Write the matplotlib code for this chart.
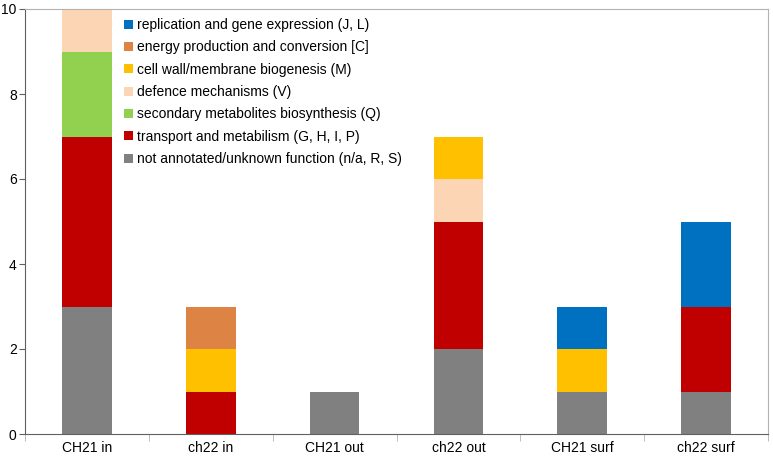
import numpy as np
import matplotlib.pyplot as plt

plt.rcParams['font.family'] = ['Liberation Sans', 'DejaVu Sans']

campioni = ['CH21 in', 'ch22 in', 'CH21 out', 'ch22 out', 'CH21 surf', 'ch22 surf']

# categorie dal basso verso l'alto
non_annotati = [3, 0, 1, 2, 1, 1]
trasporto = [4, 1, 0, 3, 0, 2]
metaboliti = [2, 0, 0, 0, 0, 0]
difesa = [1, 0, 0, 1, 0, 0]
parete = [0, 1, 0, 1, 1, 0]
energia = [0, 1, 0, 0, 0, 0]
replicazione = [0, 0, 0, 0, 1, 2]

serie = [
    (non_annotati, 'not annotated/unknown function (n/a, R, S)', '#808080'),
    (trasporto, 'transport and metabilism (G, H, I, P)', '#c00000'),
    (metaboliti, 'secondary metabolites biosynthesis (Q)', '#92d050'),
    (difesa, 'defence mechanisms (V)', '#fcd5b5'),
    (parete, 'cell wall/membrane biogenesis (M)', '#ffc000'),
    (energia, 'energy production and conversion [C]', '#dd8344'),
    (replicazione, 'replication and gene expression (J, L)', '#0070c0'),
]

fig = plt.figure(figsize=(7.73, 4.59), dpi=100, facecolor='white')
ax = fig.add_axes([25/773, 25/459, 743/773, 425/459])

x = np.arange(len(campioni))
base = np.zeros(len(campioni))
for valori, nome, colore in serie:
    valori = np.array(valori, dtype=float)
    ax.bar(x, valori, bottom=base, width=0.4, color=colore, label=nome)
    base += valori

ax.set_xlim(-0.5, len(campioni) - 0.5)
ax.set_ylim(0, 10)
ax.set_yticks([0, 2, 4, 6, 8, 10])
ax.set_xticks(x)
ax.set_xticklabels(campioni, fontsize=10)
ax.set_xticks(np.arange(-0.5, len(campioni)), minor=True)
ax.tick_params(axis='x', which='major', length=0, pad=5)
ax.tick_params(axis='x', which='minor', length=5, color='#b3b3b3')
ax.tick_params(axis='y', length=4, color='#606060', labelsize=10, pad=2)
for lato in ['top', 'right']:
    ax.spines[lato].set_color('#b3b3b3')
for lato in ['left', 'bottom']:
    ax.spines[lato].set_color('#606060')

handles, labels = ax.get_legend_handles_labels()
ax.legend(handles[::-1], labels[::-1], loc='upper left', bbox_to_anchor=(0.117, 1.008),
          frameon=False, fontsize=10, handlelength=0.6, handleheight=0.6,
          handletextpad=0.3, labelspacing=0.6)

fig.savefig('out.png', dpi=100, facecolor='white')
